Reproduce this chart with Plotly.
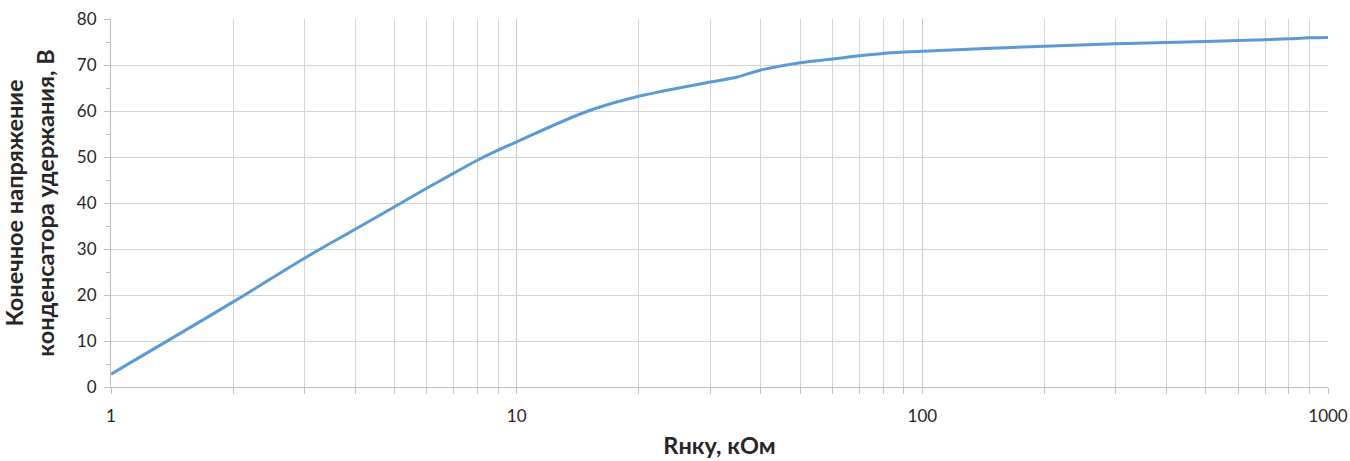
import plotly.graph_objects as go

r_kohm = [1, 2, 3, 4, 5, 6, 7, 8, 9, 10, 15, 20, 30, 35, 40, 50, 60, 70, 80, 90, 100,
          200, 300, 400, 500, 600, 700, 800, 900, 1000]
v_hold = [2.8, 18.5, 28.0, 34.3, 39.2, 43.2, 46.5, 49.3, 51.5, 53.3, 60.0, 63.2, 66.3, 67.4, 68.9,
          70.5, 71.3, 72.0, 72.5, 72.8, 73.0, 74.1, 74.6, 74.9, 75.1, 75.3, 75.5, 75.7, 75.9, 76.0]

x_title = "Rнку, кОм"
y_title = "Конечное напряжение<br>конденсатора удержания, В"

font_family = "Lato, 'Open Sans', sans-serif"
grid = "#D4D4D4"
axis_col = "#BFBFBF"

fig = go.Figure()
fig.add_trace(go.Scatter(x=r_kohm, y=v_hold, mode="lines",
                         line=dict(color="#5B9BD5", width=3, shape="spline", smoothing=1.0),
                         hoverinfo="skip", showlegend=False))

fig.update_layout(
    width=1350, height=461,
    margin=dict(l=111, r=22, t=19, b=74),
    paper_bgcolor="white", plot_bgcolor="white",
    font=dict(family=font_family, color="#404040", size=16),
)
fig.update_xaxes(
    type="log", range=[0, 3], dtick=1, automargin=False,
    showgrid=True, gridcolor="#C8C8C8", gridwidth=1,
    showline=True, linecolor=axis_col, linewidth=1,
    ticks="outside", ticklen=6, tickcolor=axis_col,
    ticklabelstandoff=8, ticklabeloverflow="allow",
    tickfont=dict(size=17, color="#262626"),
    minor=dict(dtick="D1", showgrid=True, gridcolor=grid, gridwidth=1,
               ticks="outside", ticklen=6, tickcolor=axis_col),
    title=dict(text=x_title, font=dict(size=23.5, color="#262626", family=font_family, weight="bold"), standoff=12),
    zeroline=False,
)
fig.update_yaxes(
    range=[0, 80], dtick=10, automargin=False,
    showgrid=True, gridcolor=grid, gridwidth=1,
    showline=True, linecolor=axis_col, linewidth=1,
    ticks="outside", ticklen=6, tickcolor=axis_col,
    ticklabelstandoff=4, ticklabeloverflow="allow",
    tickfont=dict(size=17, color="#262626"),
    minor=dict(dtick=5, showgrid=False, ticks="outside", ticklen=4, tickcolor=axis_col),
    title=dict(text=y_title, font=dict(size=23.5, color="#262626", family=font_family, weight="bold"), standoff=20),
    zeroline=False,
)

# remove the browser's default 8px body margin so the figure fills the window exactly
fig.write_html("out.html", config={"displayModeBar": False},
               post_script="document.body.style.margin='0';document.body.style.overflow='hidden';")
